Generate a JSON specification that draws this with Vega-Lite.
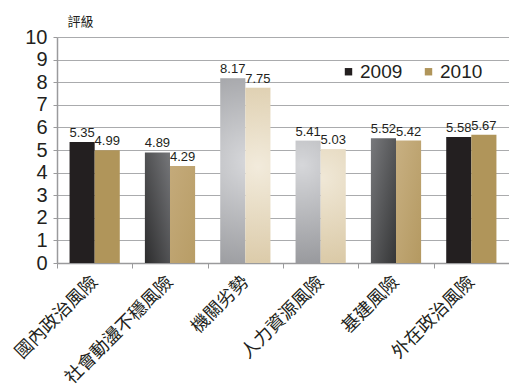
{
  "$schema": "https://vega.github.io/schema/vega-lite/v6.json",
  "width": 452,
  "height": 226,
  "autosize": "none",
  "padding": {"left": 57, "top": 37, "right": 0, "bottom": 127},
  "background": "white",
  "config": {"view": {"stroke": null}, "font": "Liberation Sans"},
  "data": {
    "values": [
      {"cat": "國內政治風險", "year": "2009", "value": 5.35},
      {"cat": "國內政治風險", "year": "2010", "value": 4.99},
      {"cat": "社會動盪不穩風險", "year": "2009", "value": 4.89},
      {"cat": "社會動盪不穩風險", "year": "2010", "value": 4.29},
      {"cat": "機關劣勢", "year": "2009", "value": 8.17},
      {"cat": "機關劣勢", "year": "2010", "value": 7.75},
      {"cat": "人力資源風險", "year": "2009", "value": 5.41},
      {"cat": "人力資源風險", "year": "2010", "value": 5.03},
      {"cat": "基建風險", "year": "2009", "value": 5.52},
      {"cat": "基建風險", "year": "2010", "value": 5.42},
      {"cat": "外在政治風險", "year": "2009", "value": 5.58},
      {"cat": "外在政治風險", "year": "2010", "value": 5.67}
    ]
  },
  "encoding": {
    "x": {
      "field": "cat",
      "type": "nominal",
      "sort": ["國內政治風險", "社會動盪不穩風險", "機關劣勢", "人力資源風險", "基建風險", "外在政治風險"],
      "scale": {"paddingInner": 0, "paddingOuter": 0},
      "axis": {
        "title": null,
        "labelAngle": -45,
        "labelAlign": "right",
        "labelBaseline": "middle",
        "labelFont": "Noto Sans CJK TC",
        "labelFontSize": 18,
        "labelColor": "#231f20",
        "labelPadding": 11,
        "tickBand": "extent",
        "tickSize": 5,
        "tickColor": "#9a9a9c",
        "domainColor": "#9a9a9c",
        "domainWidth": 1.5,
        "grid": false
      }
    },
    "xOffset": {
      "field": "year",
      "type": "nominal",
      "sort": ["2009", "2010"],
      "scale": {"domain": ["2009", "2010"], "paddingInner": 0, "paddingOuter": 0.5}
    },
    "y": {
      "field": "value",
      "type": "quantitative",
      "scale": {"domain": [0, 10], "nice": false},
      "axis": {
        "values": [0, 1, 2, 3, 4, 5, 6, 7, 8, 9, 10],
        "labelFontSize": 20,
        "labelColor": "#231f20",
        "labelPadding": 6,
        "tickSize": 4,
        "tickColor": "#9a9a9c",
        "domainColor": "#9a9a9c",
        "domainWidth": 1.5,
        "grid": true,
        "gridColor": "#aaabad",
        "gridWidth": 1.2,
        "title": "評級",
        "titleAngle": 0,
        "titleX": 10,
        "titleY": -22,
        "titleAlign": "left",
        "titleBaseline": "top",
        "titleFont": "Noto Sans CJK TC",
        "titleFontSize": 13,
        "titleFontWeight": "normal",
        "titleColor": "#231f20"
      }
    }
  },
  "layer": [
    {
      "transform": [{"filter": {"field": "cat", "oneOf": ["國內政治風險", "外在政治風險"]}}],
      "mark": {"type": "bar"},
      "encoding": {
        "color": {
          "field": "year",
          "type": "nominal",
          "scale": {"domain": ["2009", "2010"], "range": ["#231f20", "#b0955a"]},
          "legend": {
            "orient": "none",
            "legendX": 282,
            "legendY": 25,
            "direction": "horizontal",
            "title": null,
            "symbolType": "square",
            "symbolSize": 55,
            "symbolStrokeWidth": 0,
            "labelFontSize": 19,
            "labelColor": "#231f20",
            "labelOffset": 2,
            "columnPadding": 16
          }
        }
      }
    },
    {
      "transform": [{"filter": {"and": [{"field": "cat", "equal": "社會動盪不穩風險"}, {"field": "year", "equal": "2009"}]}}],
      "mark": {"type": "bar", "color": {"gradient": "linear", "x1": 0, "y1": 1, "x2": 1, "y2": 0, "stops": [{"offset": 0, "color": "#2c2c2d"}, {"offset": 1, "color": "#76777a"}]}}
    },
    {
      "transform": [{"filter": {"and": [{"field": "cat", "equal": "社會動盪不穩風險"}, {"field": "year", "equal": "2010"}]}}],
      "mark": {"type": "bar", "color": {"gradient": "linear", "x1": 0, "y1": 0, "x2": 1, "y2": 1, "stops": [{"offset": 0, "color": "#c4aa7a"}, {"offset": 1, "color": "#b89d66"}]}}
    },
    {
      "transform": [{"filter": {"and": [{"field": "cat", "equal": "機關劣勢"}, {"field": "year", "equal": "2009"}]}}],
      "mark": {"type": "bar", "color": {"gradient": "radial", "x1": 0.6, "y1": 0.45, "r1": 0, "x2": 0.6, "y2": 0.45, "r2": 0.75, "stops": [{"offset": 0, "color": "#d8d9dc"}, {"offset": 1, "color": "#8b8c90"}]}}
    },
    {
      "transform": [{"filter": {"and": [{"field": "cat", "equal": "機關劣勢"}, {"field": "year", "equal": "2010"}]}}],
      "mark": {"type": "bar", "color": {"gradient": "radial", "x1": 0.5, "y1": 0.45, "r1": 0, "x2": 0.5, "y2": 0.45, "r2": 0.75, "stops": [{"offset": 0, "color": "#f2ebdc"}, {"offset": 1, "color": "#d4c098"}]}}
    },
    {
      "transform": [{"filter": {"and": [{"field": "cat", "equal": "人力資源風險"}, {"field": "year", "equal": "2009"}]}}],
      "mark": {"type": "bar", "color": {"gradient": "radial", "x1": 0.45, "y1": 0.2, "r1": 0, "x2": 0.45, "y2": 0.2, "r2": 0.95, "stops": [{"offset": 0, "color": "#d6d7da"}, {"offset": 1, "color": "#8e8f93"}]}}
    },
    {
      "transform": [{"filter": {"and": [{"field": "cat", "equal": "人力資源風險"}, {"field": "year", "equal": "2010"}]}}],
      "mark": {"type": "bar", "color": {"gradient": "radial", "x1": 0.4, "y1": 0.25, "r1": 0, "x2": 0.4, "y2": 0.25, "r2": 0.95, "stops": [{"offset": 0, "color": "#f0e8d7"}, {"offset": 1, "color": "#d5c29b"}]}}
    },
    {
      "transform": [{"filter": {"and": [{"field": "cat", "equal": "基建風險"}, {"field": "year", "equal": "2009"}]}}],
      "mark": {"type": "bar", "color": {"gradient": "linear", "x1": 0, "y1": 0, "x2": 1, "y2": 1, "stops": [{"offset": 0, "color": "#78797c"}, {"offset": 1, "color": "#353637"}]}}
    },
    {
      "transform": [{"filter": {"and": [{"field": "cat", "equal": "基建風險"}, {"field": "year", "equal": "2010"}]}}],
      "mark": {"type": "bar", "color": {"gradient": "linear", "x1": 0, "y1": 0, "x2": 1, "y2": 1, "stops": [{"offset": 0, "color": "#c8b082"}, {"offset": 1, "color": "#b49961"}]}}
    },
    {
      "mark": {"type": "text", "baseline": "bottom", "dy": -2, "fontSize": 13, "color": "#231f20"},
      "encoding": {"text": {"field": "value", "type": "quantitative", "format": ".2f"}}
    }
  ]
}
